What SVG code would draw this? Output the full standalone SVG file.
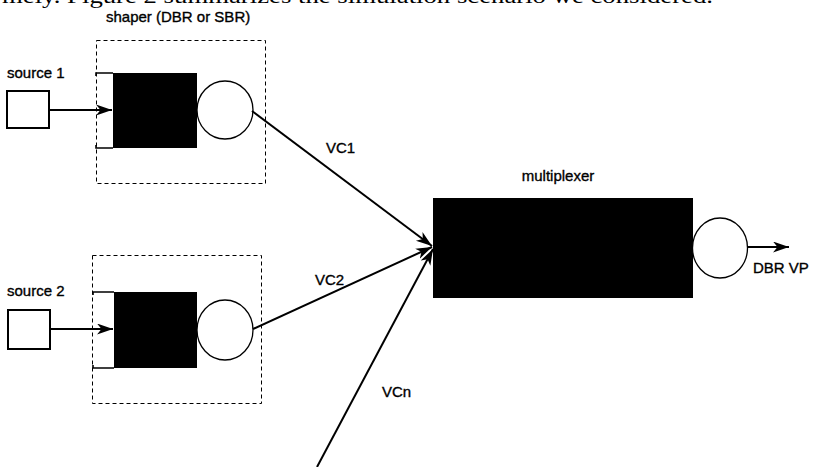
<svg xmlns="http://www.w3.org/2000/svg" width="813" height="467" viewBox="0 0 813 467">
  <defs>
    <marker id="arrow" markerUnits="userSpaceOnUse" markerWidth="17" markerHeight="12" refX="16" refY="5.5" orient="auto">
      <path d="M0,0 L16,5.5 L0,11 L4.5,5.5 z" fill="#000"/>
    </marker>
    <style>
      .lbl { font-family: "Liberation Sans", Arial, sans-serif; font-size: 15px; fill: #000; stroke: #000; stroke-width: 0.35; }
      .body { font-family: "Liberation Serif", "Times New Roman", serif; font-size: 22px; fill: #000; }
      .frame { fill: none; stroke: #000; stroke-width: 1; stroke-dasharray: 4 3; }
      .src { fill: #fff; stroke: #000; stroke-width: 2; }
      .queue { fill: #000; }
      .edge { fill: none; stroke: #000; stroke-width: 1.6; }
      .server { fill: #fff; stroke: #000; stroke-width: 1.3; }
      .conn { fill: none; stroke: #000; stroke-width: 2; }
    </style>
  </defs>

  <!-- running text from the page above the figure -->
  <text class="body" x="2" y="3" textLength="711" lengthAdjust="spacingAndGlyphs">mely. Figure 2 summarizes the simulation scenario we considered.</text>

  <!-- shaper 1 -->
  <g id="shaper1">
    <text class="lbl" x="106" y="22">shaper (DBR or SBR)</text>
    <rect class="frame" x="96.5" y="40.5" width="169" height="143"/>
    <path class="edge" d="M96,76 V73 H113 M96,145 V148 H113"/>
    <rect class="queue" x="113" y="73" width="84" height="75"/>
    <ellipse class="server" cx="225" cy="110" rx="28" ry="29"/>
  </g>

  <!-- shaper 2 -->
  <g id="shaper2">
    <rect class="frame" x="92.5" y="255.5" width="169" height="148"/>
    <path class="edge" d="M93,295 V292 H114 M93,365 V368 H114"/>
    <rect class="queue" x="114" y="292" width="83" height="76"/>
    <ellipse class="server" cx="225" cy="330" rx="28" ry="30"/>
  </g>

  <!-- source 1 -->
  <g id="source1">
    <text class="lbl" x="7" y="78">source 1</text>
    <rect class="src" x="7" y="91" width="42" height="37"/>
  </g>

  <!-- source 2 -->
  <g id="source2">
    <text class="lbl" x="7" y="296">source 2</text>
    <rect class="src" x="8" y="310" width="42" height="39"/>
  </g>

  <!-- multiplexer -->
  <g id="multiplexer">
    <text class="lbl" x="558" y="181" text-anchor="middle">multiplexer</text>
    <rect class="queue" x="433" y="198" width="260" height="100"/>
    <ellipse class="server" cx="720" cy="248" rx="27.5" ry="30"/>
  </g>

  <!-- output label -->
  <g id="output">
    <text class="lbl" x="753" y="273">DBR VP</text>
  </g>

  <!-- connectors -->
  <g id="connectors">
    <line class="conn" x1="49" y1="110" x2="112" y2="110" marker-end="url(#arrow)"/>
    <line class="conn" x1="50" y1="329" x2="113" y2="329" marker-end="url(#arrow)"/>
    <line class="conn" x1="252" y1="111" x2="432" y2="246" marker-end="url(#arrow)"/>
    <line class="conn" x1="253" y1="329" x2="432" y2="247" marker-end="url(#arrow)"/>
    <line class="conn" x1="317" y1="467" x2="433" y2="249" marker-end="url(#arrow)"/>
    <line class="conn" x1="748" y1="247" x2="789" y2="247" marker-end="url(#arrow)"/>
    <text class="lbl" x="326" y="153">VC1</text>
    <text class="lbl" x="315" y="285">VC2</text>
    <text class="lbl" x="382" y="397">VCn</text>
  </g>
</svg>
